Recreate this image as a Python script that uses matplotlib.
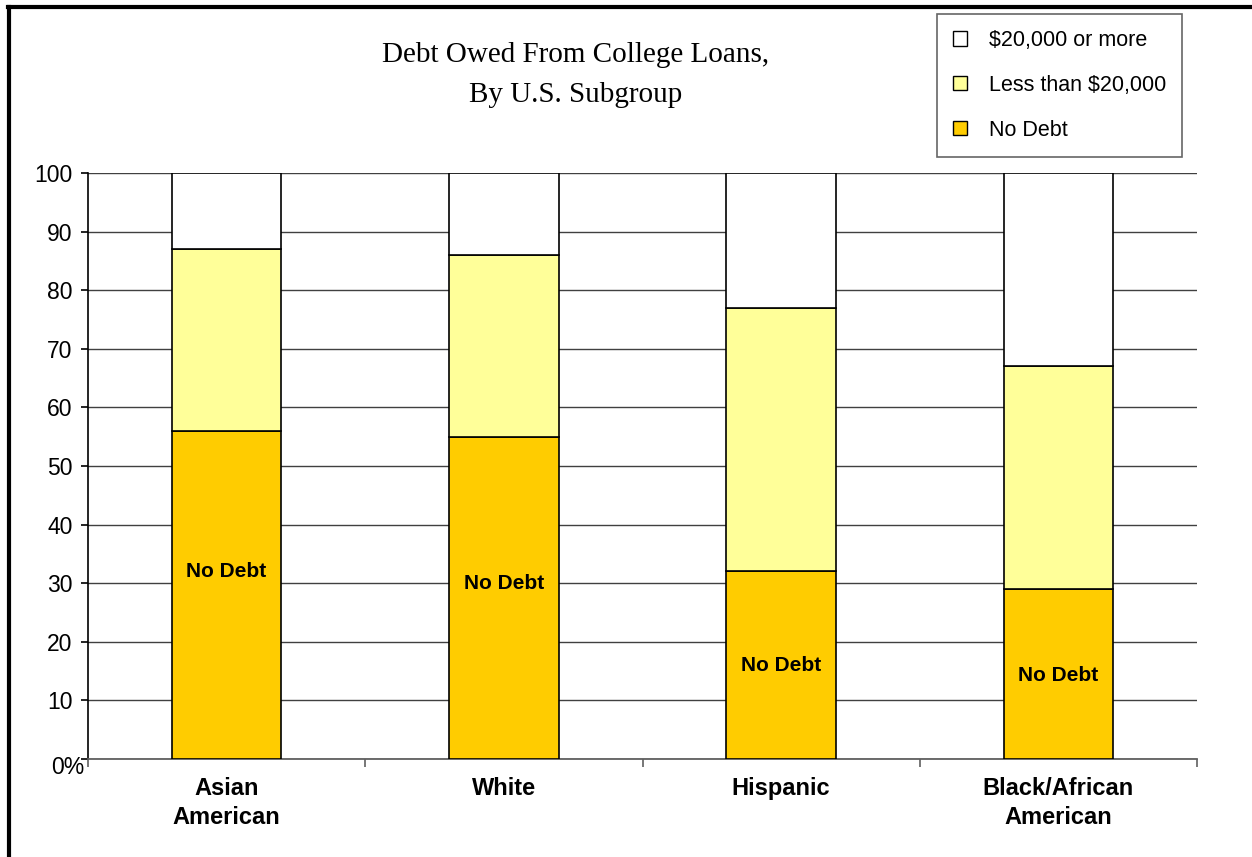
import matplotlib
matplotlib.use("Agg")
import matplotlib.pyplot as plt
from matplotlib.patches import Patch
from matplotlib.lines import Line2D
import matplotlib.transforms as mtransforms
import numpy as np

categories = ["Asian\nAmerican", "White", "Hispanic", "Black/African\nAmerican"]
no_debt = [56, 55, 32, 29]
less_20k = [31, 31, 45, 38]
more_20k = [13, 14, 23, 33]
label_y = [32, 30, 16, 14.3]
yticks = [0, 10, 20, 30, 40, 50, 60, 70, 80, 90, 100]
ytick_labels = ["0%", "10", "20", "30", "40", "50", "60", "70", "80", "90", "100"]
series_names = ["$20,000 or more", "Less than $20,000", "No Debt"]
colors = {"No Debt": "#FFCC00", "Less than $20,000": "#FFFF99", "$20,000 or more": "#FFFFFF"}

plt.rcParams['font.family'] = ['Liberation Sans', 'DejaVu Sans']

fig = plt.figure(figsize=(12.52, 8.57), dpi=100)
ax = fig.add_axes([88/1252, 1-759/857, (1197-88)/1252, (759-173)/857])

x = np.arange(len(categories))
w = 0.395
nd = np.array(no_debt); ls = np.array(less_20k); mr = np.array(more_20k)
ax.bar(x, nd, w, color=colors["No Debt"], edgecolor="black", linewidth=1.2, zorder=3)
ax.bar(x, ls, w, bottom=nd, color=colors["Less than $20,000"], edgecolor="black", linewidth=1.2, zorder=3)
ax.bar(x, mr, w, bottom=nd+ls, color=colors["$20,000 or more"], edgecolor="black", linewidth=1.2, zorder=3)

for xi, yi in zip(x, label_y):
    ax.text(xi, yi, "No Debt", ha="center", va="center", fontsize=15, fontweight="bold", zorder=4)

ax.set_xlim(-0.5, len(categories)-0.5)
ax.set_ylim(0, 100)
ax.set_yticks(yticks)
ax.set_yticklabels(ytick_labels, fontsize=16.5)
ax.yaxis.grid(True, color="#404040", linewidth=1.0, zorder=0)
ax.set_axisbelow(True)
ax.set_xticks(np.arange(len(categories)+1) - 0.5, minor=False)
ax.set_xticklabels([])
ax.tick_params(axis="x", which="major", length=6, color="#606060", width=1.2, direction="out")
ax.tick_params(axis="y", length=5, color="black", width=1.2, pad=6)
# "0%" label sits lower and closer to the axis in the reference
zero_lab = ax.get_yticklabels()[0]
zero_lab.set_transform(zero_lab.get_transform() + mtransforms.ScaledTranslation(12/100, -6/100, fig.dpi_scale_trans))

for xi, c in zip(x, categories):
    ax.text(xi, -3.1, c, ha="center", va="top", fontsize=17, fontweight="bold", linespacing=1.3,
            transform=ax.transData)
for s in ["top", "right"]:
    ax.spines[s].set_visible(False)
ax.spines["left"].set_color("black")
ax.spines["left"].set_linewidth(1.2)
ax.spines["bottom"].set_color("#606060")
ax.spines["bottom"].set_linewidth(1.3)

fig.text(576/1252, 1-75/857, "Debt Owed From College Loans,\nBy U.S. Subgroup", ha="center", va="center",
         fontsize=21, family=["Liberation Serif"], linespacing=1.7)

handles = [Patch(facecolor=colors[n], edgecolor="black", linewidth=1.0) for n in series_names]
leg = fig.legend(handles, series_names, loc="upper left", bbox_to_anchor=(937/1252, 1-14/857),
                 bbox_transform=fig.transFigure, frameon=True, fontsize=15.5, handlelength=0.65,
                 handleheight=0.65, labelspacing=1.1, borderpad=0.75, handletextpad=1.0,
                 fancybox=False, borderaxespad=0)
leg.get_frame().set_edgecolor("#404040")
leg.get_frame().set_linewidth(1.2)

fig.add_artist(Line2D([9/1252, 9/1252], [0, 1-7/857], color="black", linewidth=3.0, transform=fig.transFigure))
fig.add_artist(Line2D([8/1252, 1], [1-7/857, 1-7/857], color="black", linewidth=3.0, transform=fig.transFigure))

fig.savefig("out.png", dpi=100, facecolor="white")
